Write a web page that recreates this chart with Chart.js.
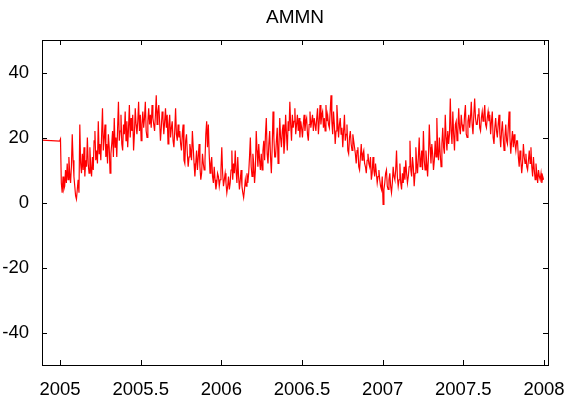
<!DOCTYPE html>
<html>
<head>
<meta charset="utf-8">
<script src="https://cdn.jsdelivr.net/npm/chart.js@4/dist/chart.umd.min.js"></script>
<style>
  html, body { margin: 0; padding: 0; background: #fff; }
  #wrap { width: 572px; height: 401px; }
</style>
</head>
<body>
<div id="wrap"><canvas id="myChart"></canvas></div>
<script>
const titleText = 'AMMN';

// values, about 16 per month
const leadX = [2004.888, 2004.998];
const leadY = [19.2, 18.9];

const data2005 = [
  19.5, 6, 3, 8, 4, 5, 10, 6, 12, 7, 14, 9, 6, 11, 21, 13,
  8, 5, 2, 1, 4, 7, 3, 24, 12, 9, 15, 10, 17, 8, 13, 11,
  20, 12, 9, 17, 11, 8, 14, 10, 19, 22, 13, 16, 12, 25, 15, 18,
  13, 21, 29, 16, 20, 24, 14, 18, 12, 21, 17, 9, 15, 18, 22, 14,
  26, 17, 20, 14, 23, 31, 19, 22, 27, 18, 16, 24, 21, 28, 19, 25,
  17, 23, 30, 20, 26, 22, 27, 16, 21, 29, 24, 21, 25, 31, 22, 27,
  19, 24, 28, 23, 26, 31, 22, 20, 25, 29, 24, 27, 23, 30, 26, 24,
  22, 27, 33, 24, 28, 30, 25, 19, 23, 28, 26, 21, 25, 29, 23, 27,
  18, 24, 27, 20, 23, 25, 19, 17, 22, 29, 21, 19, 24, 20, 22, 18,
  16, 21, 24, 13, 12, 19, 21, 15, 11, 14, 18, 16, 13, 22, 17, 12,
  8, 12, 16, 10, 14, 18, 11, 7, 9, 15, 12, 10, 13, 21, 25, 17,
  24, 15, 9, 12, 14, 8, 6, 11, 7, 4, 6, 9, 8, 5, 7, 10
];
const data2006 = [
  17, 9, 5, 7, 9, 6, 3, 5, 8, 4, 6, 10, 16, 7, 12, 9,
  16, 10, 6, 14, 8, 4, 7, 10, 5, 3, 1.5, 4, 7, 5, 9, 6,
  9, 14, 20, 11, 8, 15, 12, 6, 10, 22, 16, 11, 18, 13, 10, 15,
  10, 16, 19, 13, 21, 26, 15, 12, 18, 22, 14, 9, 17, 28, 20, 14,
  14, 19, 23, 12, 17, 26, 20, 17, 22, 24, 15, 19, 27, 21, 16, 25,
  22, 31, 24, 19, 27, 23, 25, 29, 21, 24, 27, 22, 26, 20, 25, 23,
  20, 24, 27, 22, 25, 26, 21, 19, 24, 28, 23, 25, 27, 22, 26, 24,
  22, 26, 29, 21, 25, 30, 24, 27, 28, 23, 26, 22, 30, 25, 27, 24,
  23, 28, 33, 25, 21, 28, 24, 18, 22, 30, 25, 20, 24, 26, 21, 23,
  17, 22, 27, 19, 21, 24, 16, 15, 20, 22, 18, 16, 21, 19, 17, 15,
  12, 16, 17, 11, 10, 14, 18, 13, 15, 16, 12, 11, 9, 13, 15, 12,
  11, 14, 7, 9, 14, 10, 8, 12, 9, 6, 8, 10, 7, 5, 4, 8
];
const data2007 = [
  -0.6, 4, 6, 9, 10, 5, 4, 7, 9, 5, 3, 6, 11, 8, 7, 10,
  16, 8, 5, 7, 12, 6, 4, 9, 6, 11, 7, 13, 9, 6, 8, 11,
  19, 10, 8, 14, 11, 5, 9, 17, 12, 9, 14, 20, 11, 13, 16, 10,
  22, 13, 10, 16, 12, 8, 14, 24, 17, 12, 18, 15, 10, 13, 19, 14,
  26, 16, 13, 20, 15, 11, 18, 23, 17, 15, 27, 20, 16, 22, 18, 21,
  32, 22, 18, 28, 21, 16, 24, 25, 19, 22, 29, 23, 21, 27, 24, 22,
  22, 27, 30, 21, 20, 25, 27, 23, 26, 31, 24, 21, 27, 32, 26, 24,
  24, 27, 29, 23, 22, 26, 28, 25, 27, 30, 24, 23, 26, 28, 25, 27,
  21, 25, 28, 20, 18, 23, 26, 22, 20, 24, 27, 21, 17, 22, 25, 20,
  16, 20, 24, 19, 18, 23, 28, 20, 15, 19, 22, 17, 21, 18, 16, 19,
  19, 14, 11, 16, 13, 9, 12, 18, 14, 12, 15, 11, 10, 13, 16, 12,
  17, 11, 8, 14, 10, 7, 12, 9, 6, 10, 8, 7, 9, 6, 8, 7
];

const xTicks = [2005, 2005.5, 2006, 2006.5, 2007, 2007.5, 2008];
const yTicks = [-40, -20, 0, 20, 40];

const points = [];
leadX.forEach((x, i) => points.push({ x: x, y: leadY[i] }));
[[2005, data2005], [2006, data2006], [2007, data2007]].forEach(([yr, arr]) => {
  arr.forEach((v, i) => points.push({ x: yr + (i + 0.5) / arr.length, y: v }));
});

// box, inward ticks and a title centred over the plot area
const frame = {
  id: 'frame',
  afterDraw(chart) {
    const { ctx, chartArea: a, scales } = chart;
    ctx.save();
    ctx.strokeStyle = '#000';
    ctx.lineWidth = 1;
    ctx.beginPath();
    xTicks.forEach(v => {
      const px = Math.round(scales.x.getPixelForValue(v)) + 0.5;
      ctx.moveTo(px, a.bottom); ctx.lineTo(px, a.bottom - 5);
      ctx.moveTo(px, a.top); ctx.lineTo(px, a.top + 5);
    });
    yTicks.forEach(v => {
      const py = Math.round(scales.y.getPixelForValue(v)) + 0.5;
      ctx.moveTo(a.left, py); ctx.lineTo(a.left + 5, py);
      ctx.moveTo(a.right, py); ctx.lineTo(a.right - 5, py);
    });
    ctx.stroke();
    ctx.strokeRect(Math.round(a.left) + 0.5, Math.round(a.top) + 0.5,
      Math.round(a.right - a.left), Math.round(a.bottom - a.top));

    ctx.fillStyle = '#000';
    ctx.font = '19px "Liberation Sans"';
    ctx.textAlign = 'center';
    ctx.textBaseline = 'middle';
    ctx.fillText(titleText, (a.left + a.right) / 2, 18);
    ctx.restore();
  }
};

new Chart(document.getElementById('myChart'), {
  type: 'line',
  data: {
    datasets: [{
      data: points,
      borderColor: '#ff0000',
      borderWidth: 1.2,
      pointRadius: 0,
      tension: 0,
      fill: false
    }]
  },
  options: {
    responsive: true,
    maintainAspectRatio: false,
    animation: false,
    layout: { padding: { left: 0, right: 24, top: 40, bottom: 0 } },
    plugins: {
      legend: { display: false },
      tooltip: { enabled: false },
      title: { display: false }
    },
    scales: {
      x: {
        type: 'linear',
        min: 2004.888,
        max: 2008.025,
        grid: { display: false },
        border: { display: false },
        afterBuildTicks: s => { s.ticks = xTicks.map(v => ({ value: v })); },
        afterFit: s => { s.height = 36; },
        ticks: {
          color: '#000',
          maxRotation: 0,
          autoSkip: false,
          padding: 6,
          font: { family: 'Liberation Sans', size: 18.5 },
          callback: v => String(v)
        }
      },
      y: {
        min: -50,
        max: 50,
        grid: { display: false },
        border: { display: false },
        afterBuildTicks: s => { s.ticks = yTicks.map(v => ({ value: v })); },
        afterFit: s => { s.width = 42; },
        ticks: {
          color: '#000',
          padding: 5,
          font: { family: 'Liberation Sans', size: 18.5 },
          callback: v => String(v)
        }
      }
    }
  },
  plugins: [frame]
});
</script>
</body>
</html>
